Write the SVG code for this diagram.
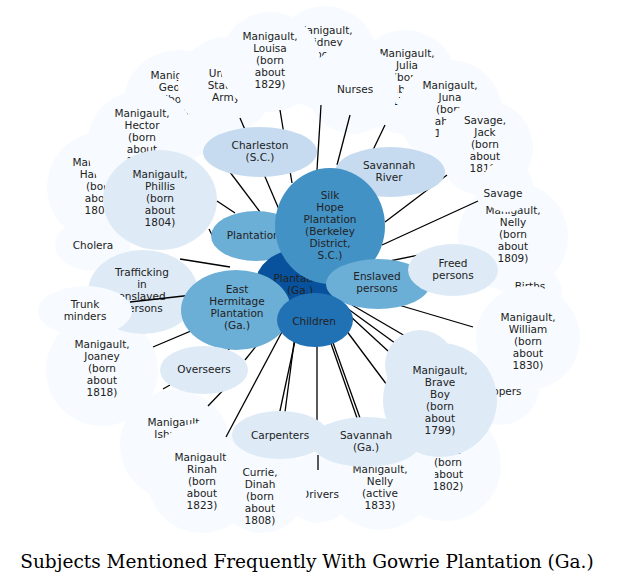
<svg xmlns="http://www.w3.org/2000/svg" width="621" height="584" viewBox="0 0 621 584">
<style>
text{font-family:"DejaVu Sans",sans-serif;font-size:10.5px;fill:#222;text-anchor:middle}
.t0{fill:#f7fbff}.t1{fill:#deebf7}.t2{fill:#c6dbef}.t3{fill:#6baed6}.t4{fill:#4292c6}.t5{fill:#2171b5}.t6{fill:#08519c}
.e line{stroke:#000;stroke-width:1.3}
.title{font-family:"DejaVu Serif",serif;font-size:18.5px;fill:#000}
</style>
<rect width="621" height="584" fill="#fff"/>
<g id="n-sidney"><circle class="t0" cx="325" cy="58" r="52"/><text x="325" y="34">Manigault,<tspan x="325" dy="12">Sidney</tspan><tspan x="325" dy="12">(born</tspan><tspan x="325" dy="12">about</tspan><tspan x="325" dy="12">1823)</tspan></text></g>
<g id="n-julia"><circle class="t0" cx="405" cy="82" r="52"/><text x="407" y="57">Manigault,<tspan x="407" dy="12">Julia</tspan><tspan x="407" dy="12">(born</tspan><tspan x="407" dy="12">about</tspan><tspan x="407" dy="12">1797)</tspan></text></g>
<g id="n-nurses"><circle class="t0" cx="353" cy="89" r="45"/><text x="355" y="93">Nurses</text></g>
<g id="n-juna"><circle class="t0" cx="450" cy="112" r="52"/><text x="450" y="89">Manigault,<tspan x="450" dy="12">Juna</tspan><tspan x="450" dy="12">(born</tspan><tspan x="450" dy="12">about</tspan><tspan x="450" dy="12">1815)</tspan></text></g>
<g id="n-jack"><circle class="t0" cx="485" cy="148" r="48"/><text x="485" y="124">Savage,<tspan x="485" dy="12">Jack</tspan><tspan x="485" dy="12">(born</tspan><tspan x="485" dy="12">about</tspan><tspan x="485" dy="12">1818)</tspan></text></g>
<g id="n-nelly09"><circle class="t0" cx="513" cy="237" r="55"/><text x="513" y="214">Manigault,<tspan x="513" dy="12">Nelly</tspan><tspan x="513" dy="12">(born</tspan><tspan x="513" dy="12">about</tspan><tspan x="513" dy="12">1809)</tspan></text></g>
<g id="n-savage"><circle class="t0" cx="507" cy="186" r="26"/><text x="503" y="197">Savage</text></g>
<g id="n-births"><circle class="t0" cx="532" cy="294" r="30"/><text x="530" y="290">Births</text></g>
<g id="n-coopers"><circle class="t0" cx="500" cy="385" r="40"/><text x="500" y="395">Coopers</text></g>
<g id="n-william"><circle class="t0" cx="528" cy="338" r="52"/><text x="528" y="321">Manigault,<tspan x="528" dy="12">William</tspan><tspan x="528" dy="12">(born</tspan><tspan x="528" dy="12">about</tspan><tspan x="528" dy="12">1830)</tspan></text></g>
<g id="n-m1802"><circle class="t0" cx="445" cy="465" r="56"/><text x="448" y="442">Manigault,<tspan x="448" dy="12">Bella</tspan><tspan x="448" dy="12">(born</tspan><tspan x="448" dy="12">about</tspan><tspan x="448" dy="12">1802)</tspan></text></g>
<g id="n-nelly33"><circle class="t0" cx="380" cy="475" r="55"/><text x="380" y="473">Manigault,<tspan x="380" dy="12">Nelly</tspan><tspan x="380" dy="12">(active</tspan><tspan x="380" dy="12">1833)</tspan></text></g>
<g id="n-drivers"><circle class="t0" cx="318" cy="488" r="35"/><text x="320" y="498">Drivers</text></g>
<g id="n-ishmael"><circle class="t0" cx="175" cy="445" r="55"/><text x="175" y="426">Manigault,<tspan x="175" dy="12">Ishmael</tspan><tspan x="175" dy="12">(born</tspan></text></g>
<g id="n-rinah"><circle class="t0" cx="202" cy="478" r="55"/><text x="202" y="461">Manigault,<tspan x="202" dy="12">Rinah</tspan><tspan x="202" dy="12">(born</tspan><tspan x="202" dy="12">about</tspan><tspan x="202" dy="12">1823)</tspan></text></g>
<g id="n-currie"><circle class="t0" cx="262" cy="488" r="45"/><text x="260" y="476">Currie,<tspan x="260" dy="12">Dinah</tspan><tspan x="260" dy="12">(born</tspan><tspan x="260" dy="12">about</tspan><tspan x="260" dy="12">1808)</tspan></text></g>
<g id="n-joaney"><circle class="t0" cx="102" cy="370" r="56"/><text x="102" y="348">Manigault,<tspan x="102" dy="12">Joaney</tspan><tspan x="102" dy="12">(born</tspan><tspan x="102" dy="12">about</tspan><tspan x="102" dy="12">1818)</tspan></text></g>
<g id="n-hannah"><circle class="t0" cx="102" cy="187" r="55"/><text x="100" y="166">Manigault,<tspan x="100" dy="12">Hannah</tspan><tspan x="100" dy="12">(born</tspan><tspan x="100" dy="12">about</tspan><tspan x="100" dy="12">1800)</tspan></text></g>
<g id="n-george"><circle class="t0" cx="178" cy="105" r="55"/><text x="178" y="79">Manigault,<tspan x="178" dy="12">George</tspan><tspan x="178" dy="12">(born</tspan><tspan x="178" dy="12">about</tspan></text></g>
<g id="n-army"><circle class="t0" cx="226" cy="85" r="48"/><text x="226" y="77">United<tspan x="226" dy="12">States.</tspan><tspan x="226" dy="12">Army</tspan></text></g>
<g id="n-louisa"><circle class="t0" cx="270" cy="62" r="50"/><text x="270" y="40">Manigault,<tspan x="270" dy="12">Louisa</tspan><tspan x="270" dy="12">(born</tspan><tspan x="270" dy="12">about</tspan><tspan x="270" dy="12">1829)</tspan></text></g>
<g id="n-hector"><circle class="t0" cx="142" cy="145" r="55"/><text x="142" y="117">Manigault,<tspan x="142" dy="12">Hector</tspan><tspan x="142" dy="12">(born</tspan><tspan x="142" dy="12">about</tspan><tspan x="142" dy="12">1810)</tspan></text></g>
<g id="n-cholera"><ellipse class="t0" cx="93" cy="245" rx="38" ry="26"/><text x="93" y="249">Cholera</text></g>
<g id="n-phillis"><ellipse class="t1" cx="160" cy="200" rx="57" ry="50"/><text x="160" y="178">Manigault,<tspan x="160" dy="12">Phillis</tspan><tspan x="160" dy="12">(born</tspan><tspan x="160" dy="12">about</tspan><tspan x="160" dy="12">1804)</tspan></text></g>
<g id="n-trafficking"><ellipse class="t1" cx="143" cy="292" rx="55" ry="42"/><text x="142" y="276">Trafficking<tspan x="142" dy="12">in</tspan><tspan x="142" dy="12">enslaved</tspan><tspan x="142" dy="12">persons</tspan></text></g>
<g id="n-trunk"><ellipse class="t0" cx="85" cy="311" rx="47" ry="25"/><text x="85" y="308">Trunk<tspan x="85" dy="12">minders</tspan></text></g>
<g class="e" id="connectors">
<line x1="317" y1="170" x2="321" y2="105"/><line x1="337" y1="165" x2="350" y2="115"/><line x1="373" y1="150" x2="385" y2="125"/>
<line x1="385" y1="222" x2="447" y2="175"/><line x1="382" y1="245" x2="478" y2="201"/><line x1="370" y1="265" x2="458" y2="247"/>
<line x1="240" y1="118" x2="295" y2="247"/><line x1="280" y1="110" x2="292" y2="183"/><line x1="208" y1="143" x2="260" y2="212"/>
<line x1="217" y1="201" x2="235" y2="213"/><line x1="209" y1="229" x2="213" y2="237"/><line x1="180" y1="259" x2="230" y2="267"/>
<line x1="197" y1="287" x2="255" y2="283"/><line x1="130" y1="302" x2="255" y2="288"/><line x1="153" y1="347" x2="262" y2="301"/>
<line x1="228" y1="350" x2="278" y2="307"/><line x1="245" y1="360" x2="285" y2="310"/><line x1="163" y1="389" x2="170" y2="385"/>
<line x1="208" y1="406" x2="230" y2="383"/><line x1="226" y1="437" x2="292" y2="313"/><line x1="272" y1="448" x2="301" y2="313"/>
<line x1="285" y1="412" x2="298" y2="312"/><line x1="317" y1="320" x2="317" y2="432"/><line x1="318" y1="455" x2="318" y2="470"/>
<line x1="320" y1="312" x2="357" y2="418"/><line x1="322" y1="312" x2="360" y2="418"/><line x1="331" y1="310" x2="387" y2="385"/>
<line x1="338" y1="305" x2="400" y2="362"/><line x1="344" y1="306" x2="399" y2="346"/><line x1="352" y1="305" x2="412" y2="340"/>
<line x1="358" y1="293" x2="473" y2="327"/>
</g>
<g id="n-charleston"><ellipse class="t2" cx="260" cy="152" rx="57" ry="25"/><text x="260" y="149">Charleston<tspan x="260" dy="12">(S.C.)</tspan></text></g>
<g id="n-savriver"><ellipse class="t2" cx="390" cy="172" rx="55" ry="25"/><text x="389" y="169">Savannah<tspan x="389" dy="12">River</tspan></text></g>
<g id="n-plantation"><ellipse class="t3" cx="256" cy="236" rx="45" ry="25"/><text x="256" y="239">Plantations</text></g>
<g id="n-plga"><ellipse class="t6" cx="300" cy="285" rx="45" ry="36"/><text x="300" y="282">Plantation<tspan x="300" dy="12">(Ga.)</tspan></text></g>
<g id="n-silkhope"><ellipse class="t4" cx="330" cy="226" rx="55" ry="58"/><text x="330" y="199">Silk<tspan x="330" dy="12">Hope</tspan><tspan x="330" dy="12">Plantation</tspan><tspan x="330" dy="12">(Berkeley</tspan><tspan x="330" dy="12">District,</tspan><tspan x="330" dy="12">S.C.)</tspan></text></g>
<g id="n-enslaved"><ellipse class="t3" cx="378" cy="284" rx="52" ry="25"/><text x="377" y="280">Enslaved<tspan x="377" dy="12">persons</tspan></text></g>
<g id="n-freed"><ellipse class="t1" cx="453" cy="270" rx="45" ry="26"/><text x="453" y="267">Freed<tspan x="453" dy="12">persons</tspan></text></g>
<g id="n-eh"><ellipse class="t3" cx="236" cy="310" rx="55" ry="40"/><text x="237" y="293">East<tspan x="237" dy="12">Hermitage</tspan><tspan x="237" dy="12">Plantation</tspan><tspan x="237" dy="12">(Ga.)</tspan></text></g>
<g id="n-children"><ellipse class="t5" cx="315" cy="320" rx="38" ry="27"/><text x="314" y="325">Children</text></g>
<g id="n-overseers"><ellipse class="t1" cx="204" cy="370" rx="44" ry="24"/><text x="204" y="373">Overseers</text></g>
<g id="n-carpenters"><ellipse class="t1" cx="280" cy="435" rx="48" ry="24"/><text x="280" y="439">Carpenters</text></g>
<g id="n-savga"><ellipse class="t1" cx="366" cy="442" rx="55" ry="25"/><text x="366" y="439">Savannah<tspan x="366" dy="12">(Ga.)</tspan></text></g>
<g id="n-braveboy"><circle class="t1" cx="420" cy="365" r="35"/><circle class="t1" cx="440" cy="400" r="57"/><text x="440" y="374">Manigault,<tspan x="440" dy="12">Brave</tspan><tspan x="440" dy="12">Boy</tspan><tspan x="440" dy="12">(born</tspan><tspan x="440" dy="12">about</tspan><tspan x="440" dy="12">1799)</tspan></text></g>
<text class="title" x="307" y="568">Subjects Mentioned Frequently With Gowrie Plantation (Ga.)</text>
</svg>
